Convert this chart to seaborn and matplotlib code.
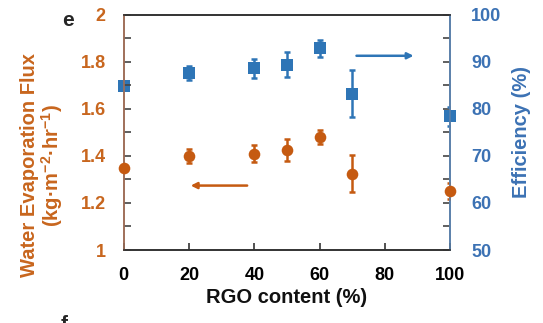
import matplotlib
matplotlib.use("Agg")
import matplotlib.pyplot as plt
import seaborn as sns
import pandas as pd

sns.set_style("ticks")
plt.rcParams['font.family'] = ['Liberation Sans', 'DejaVu Sans']
plt.rcParams['mathtext.fontset'] = 'custom'
plt.rcParams['mathtext.rm'] = 'Liberation Sans:bold'
plt.rcParams['mathtext.bf'] = 'Liberation Sans:bold'
plt.rcParams['mathtext.default'] = 'bf'

# data
rgo = [0, 20, 40, 50, 60, 70, 100]
flux = [1.35, 1.40, 1.41, 1.425, 1.48, 1.325, 1.25]
flux_err = [0.0, 0.03, 0.035, 0.045, 0.03, 0.08, 0.035]
eff = [84.8, 87.7, 88.6, 89.4, 92.9, 83.2, 78.4]
eff_err = [0.0, 1.5, 2.0, 2.7, 1.8, 5.0, 2.0]

ORANGE = '#C55A11'
BLUE = '#2E75B6'
ORANGE_T = '#C8661E'
BLUE_T = '#3C72B4'

df = pd.DataFrame({'rgo': rgo, 'flux': flux, 'flux_err': flux_err,
                   'eff': eff, 'eff_err': eff_err})

fig = plt.figure(figsize=(5.43, 3.23), dpi=100)
ax = fig.add_axes([0.228, 0.226, 0.601, 0.728])
ax2 = ax.twinx()

ax.errorbar(df['rgo'], df['flux'], yerr=df['flux_err'], fmt='none',
            ecolor=ORANGE, elinewidth=1.8, capsize=2.5, capthick=1.8, zorder=2)
sns.scatterplot(data=df, x='rgo', y='flux', ax=ax, marker='o', s=70,
                color=ORANGE, edgecolor=ORANGE, linewidth=0, zorder=3, clip_on=False)
ax2.errorbar(df['rgo'], df['eff'], yerr=df['eff_err'], fmt='none',
             ecolor=BLUE, elinewidth=1.8, capsize=2.5, capthick=1.8, zorder=2)
sns.scatterplot(data=df, x='rgo', y='eff', ax=ax2, marker='s', s=65,
                color=BLUE, edgecolor=BLUE, linewidth=0, zorder=3, clip_on=False)

ax.set_xlim(0, 100)
ax.set_ylim(1, 2)
ax2.set_ylim(50, 100)
ax.set_xticks([0, 20, 40, 60, 80, 100])
ax.set_yticks([1, 1.2, 1.4, 1.6, 1.8, 2])
ax.set_yticklabels(['1', '1.2', '1.4', '1.6', '1.8', '2'])
ax.set_yticks([1.1, 1.3, 1.5, 1.7, 1.9], minor=True)
ax2.set_yticks([50, 60, 70, 80, 90, 100])
ax2.set_yticks([55, 65, 75, 85, 95], minor=True)

for a in (ax, ax2):
    for s in a.spines.values():
        s.set_linewidth(1.2)
        s.set_color('#333333')
    a.spines['left'].set_color('#A0705A')
    a.spines['right'].set_color('#5A80AA')

ax.tick_params(axis='x', direction='in', length=5, width=1.2, pad=12,
               labelsize=13, colors='#333333', labelcolor='black')
ax.tick_params(axis='y', which='major', direction='in', length=5, width=1.2, pad=13,
               labelsize=13, color='#444444', labelcolor=ORANGE_T)
ax.tick_params(axis='y', which='minor', direction='in', length=5, width=1.2, color='#444444')
ax2.tick_params(axis='y', which='major', direction='in', length=5, width=1.2, pad=15,
                labelsize=13, color='#444444', labelcolor=BLUE_T)
ax2.tick_params(axis='y', which='minor', direction='in', length=5, width=1.2, color='#444444')
for lab in ax.get_xticklabels() + ax.get_yticklabels() + ax2.get_yticklabels():
    lab.set_fontweight('bold')

ax.set_xlabel('RGO content (%)', fontsize=14.5, fontweight='bold', color='#111111', labelpad=3)
ax.set_ylabel('Water Evaporation Flux\n(kg·m$^{-2}$·hr$^{-1}$)', fontsize=14.5,
              fontweight='bold', color=ORANGE_T, linespacing=1.0)
ax.yaxis.set_label_coords(-0.18, 0.36)
ax2.set_ylabel('Efficiency (%)', fontsize=14.5, fontweight='bold', color=BLUE_T)
ax2.yaxis.set_label_coords(1.19, 0.5)

# arrows indicating axes
ax.annotate('', xy=(20.5, 1.274), xytext=(37.8, 1.274),
            arrowprops=dict(arrowstyle='-|>', color=ORANGE, lw=1.8,
                            mutation_scale=9, shrinkA=0, shrinkB=0))
ax2.annotate('', xy=(88.8, 91.3), xytext=(71.3, 91.3),
             arrowprops=dict(arrowstyle='-|>', color=BLUE, lw=1.8,
                             mutation_scale=9, shrinkA=0, shrinkB=0))

fig.text(0.125, 0.935, 'e', fontsize=15, fontweight='bold', ha='center', va='center')
fig.text(0.118, -0.005, 'f', fontsize=15, fontweight='bold', ha='center', va='center')

ax.set_zorder(ax2.get_zorder() + 1)
ax.patch.set_visible(False)

fig.savefig('out.png', dpi=100)
